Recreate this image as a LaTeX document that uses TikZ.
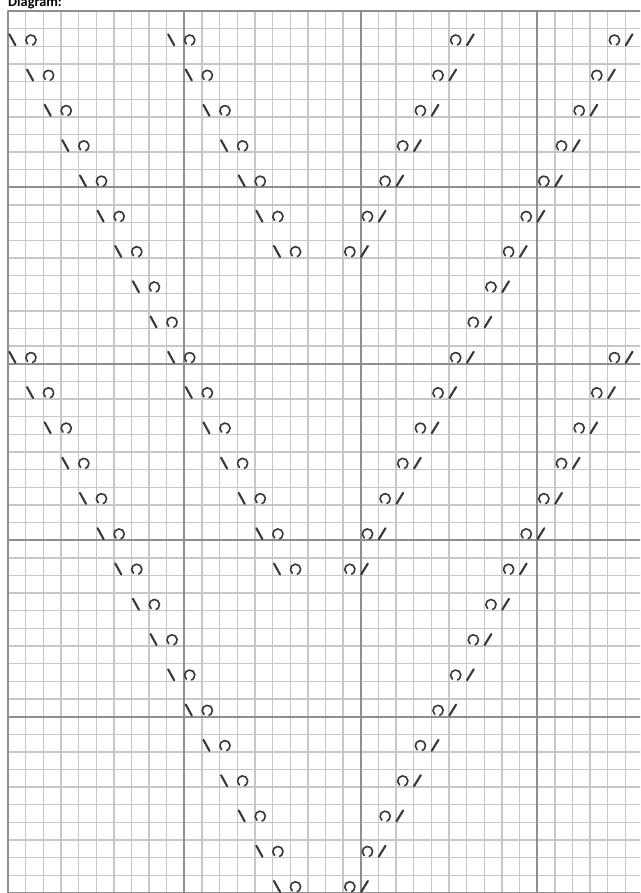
\documentclass[tikz,border=0pt]{standalone}
\usepackage{fontspec}
\newfontfamily\titlefont{Carlito}
\definecolor{gridlight}{gray}{0.78}
\definecolor{griddark}{gray}{0.56}
\definecolor{stitch}{gray}{0.22}

\begin{document}
\begin{tikzpicture}[x=0.5cm, y=-0.5cm, line cap=round, line join=round,
    minor/.style={gridlight, line width=1.1pt},
    major/.style={griddark, line width=1.5pt},
    dec/.style={stitch, line width=1.7pt},
    yarnover/.style={stitch, line width=1.3pt}]
  \useasboundingbox (-0.4535,-0.6236) rectangle (35.828,50);
  \fill[white] (-0.4535,-0.6236) rectangle (35.828,50);
  \clip (-0.4535,-0.6236) rectangle (35.828,50);

  % grid
  \foreach \x in {1,...,36} \draw[minor] (\x,0) -- (\x,50);
  \foreach \y in {1,...,50} \draw[minor] (0,\y) -- (36,\y);
  \foreach \x in {0,10,20,30} \draw[major] (\x,0) -- (\x,50);
  \foreach \y in {0,10,20,30,40,50} \draw[major] (0,\y) -- (36,\y);

  \node[anchor=base west, inner sep=0pt, font=\titlefont\bfseries\fontsize{11.5}{13}\selectfont]
    (title) at (0,-0.255) {Diagram:};

  % left leaning pairs and their mirror
  \foreach \c/\r in {0/1,1/3,2/5,3/7,4/9,5/11,6/13,7/15,8/17,
                     9/1,10/3,11/5,12/7,13/9,14/11,15/13,
                     0/19,1/21,2/23,3/25,4/27,5/29,6/31,7/33,8/35,
                     9/37,10/39,11/41,12/43,13/45,14/47,15/49,
                     9/19,10/21,11/23,12/25,13/27,14/29,15/31}{
    \draw[dec] (\c+0.08,\r+0.32) -- (\c+0.42,\r+0.94);
    \draw[yarnover] (\c+1.3,\r+0.65) ++(130:0.29) arc[start angle=130, end angle=430, radius=0.29];
    \draw[yarnover] (34.38-\c,\r+0.65) ++(130:0.29) arc[start angle=130, end angle=430, radius=0.29];
    \draw[dec] (35.02-\c,\r+0.94) -- (35.4-\c,\r+0.32);
  }
\end{tikzpicture}
\end{document}
